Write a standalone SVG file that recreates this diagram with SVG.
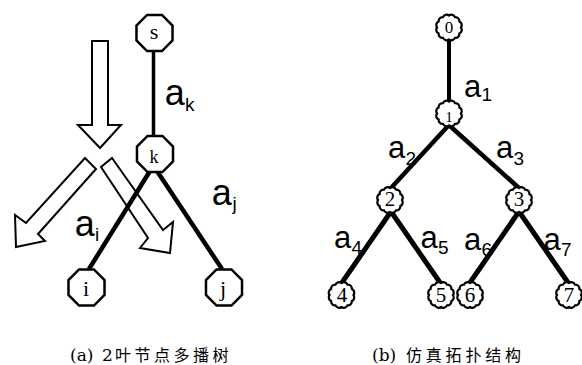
<svg xmlns="http://www.w3.org/2000/svg" xmlns:xlink="http://www.w3.org/1999/xlink" width="582" height="365" viewBox="0 0 582 365">
<style>
.bg{fill:#fff}
.arrow{fill:#fff;stroke:#000;stroke-width:2;stroke-linejoin:miter}
.edge{stroke:#000;fill:none;stroke-linecap:butt}
.oct{fill:#fff;stroke:#000;stroke-width:2.5}
.cloud{fill:#fff;stroke:#000;stroke-width:2.2}
.nl{font-family:"Liberation Serif","Times New Roman",serif;fill:#000;text-anchor:middle}
.lab{font-family:"Liberation Sans",Arial,sans-serif;fill:#000}
.cap{font-family:"Liberation Serif","Noto Sans CJK SC",serif;font-size:16px;fill:#000}
.capl{font-family:"DejaVu Serif","Liberation Serif",serif;font-size:17px}
</style>
<defs>
<polygon id="octa" points="18.02,7.46 7.46,18.02 -7.46,18.02 -18.02,7.46 -18.02,-7.46 -7.46,-18.02 7.46,-18.02 18.02,-7.46"/>
<path id="cl" d="M12,0 A4,4 0 0 1 10.39,6 A4,4 0 0 1 6,10.39 A4,4 0 0 1 0,12 A4,4 0 0 1 -6,10.39 A4,4 0 0 1 -10.39,6 A4,4 0 0 1 -12,0 A4,4 0 0 1 -10.39,-6 A4,4 0 0 1 -6,-10.39 A4,4 0 0 1 0,-12 A4,4 0 0 1 6,-10.39 A4,4 0 0 1 10.39,-6 A4,4 0 0 1 12,0 Z"/>
</defs>
<rect class="bg" x="0" y="0" width="582" height="365"/>

<g id="flow-arrows">
<polygon class="arrow" points="92,41 108,41 108,125 121,125 100,148 78,125 92,125"/>
<polygon class="arrow" points="85,158 96,169 38,234 45,241 16,247 15,215 26,223"/>
<polygon class="arrow" points="112,158 163,230 173,222 170,253 140,248 148,238 101,167"/>
</g>

<g id="connectors">
<line class="edge" x1="153.5" y1="50" x2="153.5" y2="137" stroke-width="3.5"/>
<line class="edge" x1="150" y1="171" x2="89" y2="269" stroke-width="4.5"/>
<line class="edge" x1="157" y1="171" x2="222" y2="269" stroke-width="4.5"/>
<line class="edge" x1="449" y1="38" x2="449" y2="102" stroke-width="4"/>
<line class="edge" x1="448" y1="126" x2="391" y2="188" stroke-width="4.5"/>
<line class="edge" x1="450" y1="126" x2="519" y2="188" stroke-width="4.5"/>
<line class="edge" x1="390" y1="213" x2="341" y2="284" stroke-width="5"/>
<line class="edge" x1="392" y1="213" x2="441" y2="284" stroke-width="5"/>
<line class="edge" x1="518" y1="213" x2="469" y2="284" stroke-width="5"/>
<line class="edge" x1="520" y1="213" x2="569" y2="284" stroke-width="5"/>
</g>

<g id="edge-labels" class="lab">
<text x="164.7" y="105" font-size="36">a<tspan x="185" y="111" font-size="19">k</tspan></text>
<text x="211.7" y="205" font-size="36">a<tspan x="232.5" y="210" font-size="19">j</tspan></text>
<text x="74.7" y="236" font-size="36">a<tspan x="95" y="241" font-size="19">i</tspan></text>
<text x="464" y="97" font-size="31">a<tspan x="481.5" y="101" font-size="19">1</tspan></text>
<text x="388" y="158" font-size="31">a<tspan x="405.5" y="165" font-size="19">2</tspan></text>
<text x="496" y="158" font-size="31">a<tspan x="513.5" y="165" font-size="19">3</tspan></text>
<text x="334" y="248" font-size="31">a<tspan x="351.5" y="254" font-size="19">4</tspan></text>
<text x="420.5" y="248" font-size="31">a<tspan x="438" y="254" font-size="19">5</tspan></text>
<text x="464" y="250" font-size="31">a<tspan x="481.5" y="256" font-size="19">6</tspan></text>
<text x="543.5" y="250" font-size="31">a<tspan x="561" y="256" font-size="19">7</tspan></text>
</g>

<g id="node-s"><use xlink:href="#octa" class="oct" transform="translate(154.5,33)"/><text class="nl" x="154" y="39" font-size="22">s</text></g>
<g id="node-k"><use xlink:href="#octa" class="oct" transform="translate(155,154)"/><text class="nl" x="154" y="163" font-size="18">k</text></g>
<g id="node-i"><use xlink:href="#octa" class="oct" transform="translate(86.5,287.5)"/><text class="nl" x="86" y="296" font-size="22">i</text></g>
<g id="node-j"><use xlink:href="#octa" class="oct" transform="translate(224,287.5)"/><text class="nl" x="223" y="296" font-size="22">j</text></g>

<g id="node-0"><use xlink:href="#cl" class="cloud" transform="translate(449,27.5)"/><text class="nl" x="449" y="33" font-size="17">0</text></g>
<g id="node-1"><use xlink:href="#cl" class="cloud" transform="translate(449,113.5)"/><text class="nl" x="449" y="122" font-size="15">1</text></g>
<g id="node-2"><use xlink:href="#cl" class="cloud" transform="translate(390,200)"/><text class="nl" x="390" y="206" font-size="21">2</text></g>
<g id="node-3"><use xlink:href="#cl" class="cloud" transform="translate(519,200)"/><text class="nl" x="519" y="206" font-size="21">3</text></g>
<g id="node-4"><use xlink:href="#cl" class="cloud" transform="translate(341.5,295)"/><text class="nl" x="342" y="302" font-size="21">4</text></g>
<g id="node-5"><use xlink:href="#cl" class="cloud" transform="translate(441,295)"/><text class="nl" x="441" y="302" font-size="21">5</text></g>
<g id="node-6"><use xlink:href="#cl" class="cloud" transform="translate(470,295)"/><text class="nl" x="470" y="302" font-size="21">6</text></g>
<g id="node-7"><use xlink:href="#cl" class="cloud" transform="translate(569,295)"/><text class="nl" x="569" y="302" font-size="21">7</text></g>

<g id="captions" class="cap">
<text y="361"><tspan class="capl" x="70">(a)</tspan> <tspan class="capl" x="102">2</tspan><tspan x="115 134.5 154 173.5 193 212.5">叶节点多播树</tspan></text>
<text y="361"><tspan class="capl" x="372">(b)</tspan> <tspan x="406 425.8 445.6 465.4 485.2 505">仿真拓扑结构</tspan></text>
</g>
</svg>
